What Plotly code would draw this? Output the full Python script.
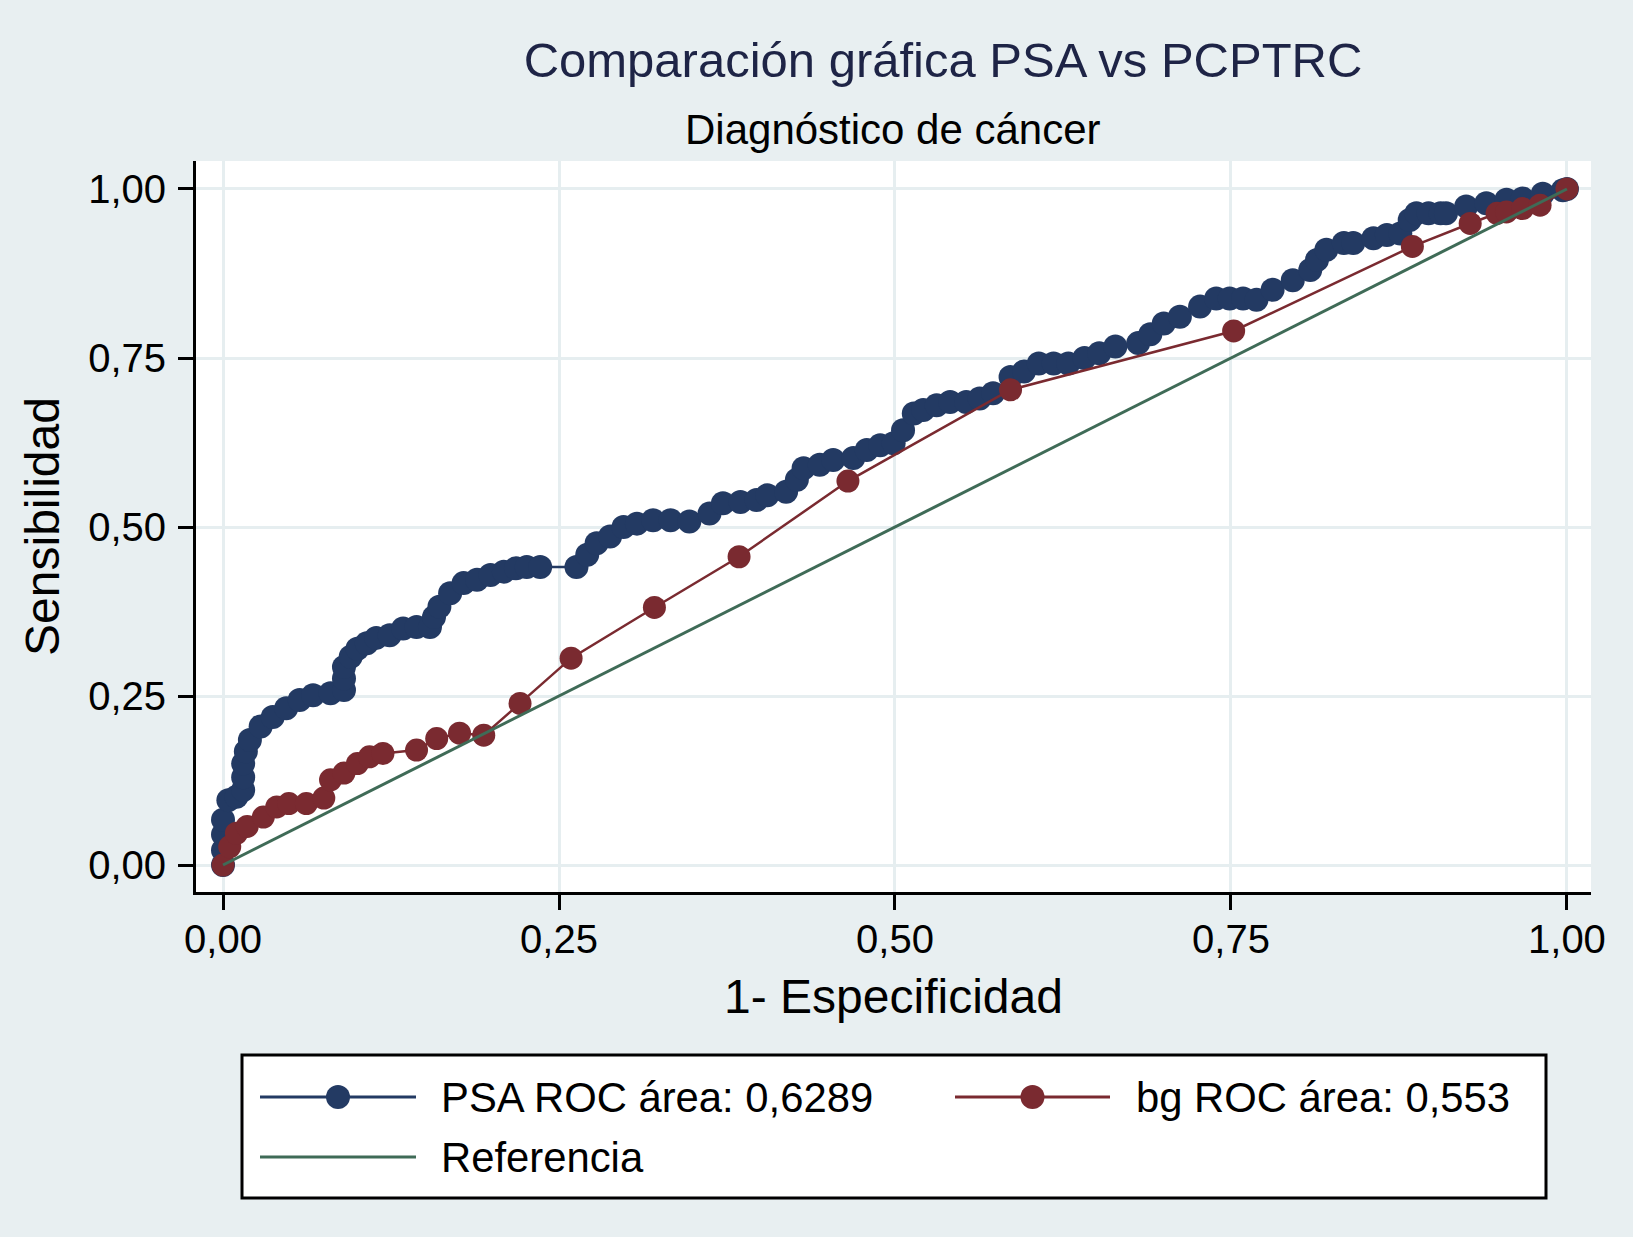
import plotly.graph_objects as go

# ---------------- data ----------------
psa_x = [0.000, 0.000, 0.000, 0.000, 0.004, 0.010, 0.015, 0.015, 0.015, 0.017,
         0.020, 0.028, 0.037, 0.047, 0.057, 0.067, 0.080, 0.090, 0.090, 0.090,
         0.095, 0.100, 0.107, 0.114, 0.124, 0.134, 0.144, 0.154, 0.157, 0.161,
         0.169, 0.179, 0.189, 0.199, 0.209, 0.218, 0.226, 0.236, 0.263, 0.271,
         0.278, 0.288, 0.298, 0.308, 0.320, 0.333, 0.347, 0.362, 0.372, 0.385,
         0.397, 0.405, 0.419, 0.427, 0.432, 0.444, 0.454, 0.469, 0.479, 0.489,
         0.499, 0.506, 0.514, 0.521, 0.531, 0.541, 0.553, 0.563, 0.573, 0.586,
         0.596, 0.607, 0.618, 0.629, 0.641, 0.652, 0.664, 0.681, 0.690, 0.700,
         0.712, 0.727, 0.739, 0.749, 0.759, 0.769, 0.781, 0.796, 0.809, 0.814,
         0.821, 0.834, 0.841, 0.856, 0.866, 0.876, 0.883, 0.888, 0.897, 0.906,
         0.910, 0.925, 0.940, 0.955, 0.967, 0.982, 0.997, 1.000]
psa_y = [0.000, 0.022, 0.045, 0.067, 0.096, 0.101, 0.111, 0.130, 0.150, 0.168,
         0.185, 0.205, 0.219, 0.232, 0.244, 0.251, 0.254, 0.259, 0.276, 0.293,
         0.308, 0.320, 0.328, 0.336, 0.340, 0.350, 0.352, 0.352, 0.367, 0.382,
         0.402, 0.417, 0.422, 0.429, 0.434, 0.439, 0.441, 0.441, 0.441, 0.459,
         0.476, 0.486, 0.500, 0.505, 0.510, 0.510, 0.508, 0.520, 0.535, 0.537,
         0.540, 0.547, 0.552, 0.570, 0.587, 0.592, 0.599, 0.602, 0.614, 0.621,
         0.624, 0.643, 0.668, 0.673, 0.680, 0.685, 0.685, 0.690, 0.698, 0.722,
         0.730, 0.742, 0.742, 0.742, 0.750, 0.757, 0.767, 0.772, 0.785, 0.801,
         0.811, 0.826, 0.838, 0.838, 0.838, 0.836, 0.851, 0.865, 0.880, 0.895,
         0.910, 0.920, 0.920, 0.927, 0.932, 0.934, 0.954, 0.964, 0.964, 0.964,
         0.964, 0.974, 0.979, 0.984, 0.986, 0.993, 0.998, 1.000]

bg_x = [0.000, 0.005, 0.010, 0.018, 0.030, 0.040, 0.049, 0.062, 0.075, 0.080,
        0.090, 0.100, 0.109, 0.119, 0.144, 0.159, 0.176, 0.194, 0.221, 0.259,
        0.321, 0.384, 0.465, 0.586, 0.752, 0.885, 0.928, 0.948, 0.955, 0.967,
        0.980, 1.000]
bg_y = [0.000, 0.027, 0.047, 0.057, 0.071, 0.086, 0.091, 0.091, 0.099, 0.126,
        0.136, 0.150, 0.160, 0.165, 0.170, 0.187, 0.195, 0.192, 0.239, 0.306,
        0.381, 0.456, 0.568, 0.703, 0.790, 0.915, 0.949, 0.964, 0.966, 0.971,
        0.976, 1.000]

ref_x = [0.0, 1.0]
ref_y = [0.0, 1.0]

tick_vals = [0.0, 0.25, 0.5, 0.75, 1.0]
tick_text = ["0,00", "0,25", "0,50", "0,75", "1,00"]

series_names = ["PSA ROC área: 0,6289", "bg ROC área: 0,553", "Referencia"]
title_text = "Comparación gráfica PSA vs PCPTRC"
subtitle_text = "Diagnóstico de cáncer"
x_title = "1- Especificidad"
y_title = "Sensibilidad"

# ---------------- styles ----------------
W, H = 1633, 1237
PL, PR, PT, PB = 196, 1591, 161, 892   # plot area in pixels
FONT = "Liberation Sans, Arial, Helvetica, sans-serif"
C_PSA = "#233a63"
C_BG = "#7a2a30"
C_REF = "#3f6b57"
BG = "#e8eff1"
GRID = "#e6eef0"
MS = 24

def px_x(px):
    return (px - PL) / (PR - PL)

def px_y(py):
    return (PB - py) / (PB - PT)

fig = go.Figure()
fig.add_trace(go.Scatter(x=psa_x, y=psa_y, mode="lines+markers", name=series_names[0],
                         line=dict(color=C_PSA, width=2.5),
                         marker=dict(color=C_PSA, size=MS), showlegend=False))
fig.add_trace(go.Scatter(x=bg_x, y=bg_y, mode="lines+markers", name=series_names[1],
                         line=dict(color=C_BG, width=2.5),
                         marker=dict(color=C_BG, size=MS - 1), showlegend=False))
fig.add_trace(go.Scatter(x=ref_x, y=ref_y, mode="lines", name=series_names[2],
                         line=dict(color=C_REF, width=3), showlegend=False))

axis_common = dict(
    tickvals=tick_vals, ticktext=tick_text, ticks="outside", ticklen=15,
    tickwidth=3, tickcolor="black", showline=True, linecolor="black",
    linewidth=3, showgrid=True, gridcolor=GRID, gridwidth=3, zeroline=False,
    tickfont=dict(family=FONT, size=40, color="black"),
)

fig.update_layout(
    width=W, height=H, autosize=False,
    margin=dict(l=PL, r=W - PR, t=PT, b=H - PB, pad=0),
    paper_bgcolor=BG, plot_bgcolor="white",
    font=dict(family=FONT, color="black"),
    title=dict(text=title_text, x=943 / W, xanchor="center", xref="container",
               y=1 - 60 / H, yanchor="middle", yref="container",
               font=dict(family=FONT, size=49, color="#1e2446")),
    xaxis=dict(range=[-0.0201, 1.0179], **axis_common, ticklabelstandoff=-5,
               title=dict(text=x_title, font=dict(family=FONT, size=48, color="black"),
                          standoff=20)),
    yaxis=dict(range=[-0.0399, 1.0414], **axis_common, ticklabelstandoff=4,
               title=dict(text=y_title, font=dict(family=FONT, size=48, color="black"),
                          standoff=14)),
    showlegend=False,
)

annotations = [
    dict(text=subtitle_text, xref="paper", yref="paper", x=px_x(893), y=px_y(129),
         xanchor="center", yanchor="middle", showarrow=False,
         font=dict(family=FONT, size=42, color="black")),
]
shapes = [
    dict(type="rect", xref="paper", yref="paper", x0=px_x(242), x1=px_x(1546),
         y0=px_y(1055), y1=px_y(1198), fillcolor="white",
         line=dict(color="black", width=3), layer="above"),
]

legend_rows = [
    (series_names[0], C_PSA, True, 260, 416, 1097, 439),
    (series_names[1], C_BG, True, 955, 1110, 1097, 1134),
    (series_names[2], C_REF, False, 260, 416, 1157, 439),
]
for name, col, has_marker, lx0, lx1, ly, tx in legend_rows:
    shapes.append(dict(type="line", xref="paper", yref="paper",
                       x0=px_x(lx0), x1=px_x(lx1), y0=px_y(ly), y1=px_y(ly),
                       line=dict(color=col, width=3), layer="above"))
    if has_marker:
        cx = (lx0 + lx1) / 2
        shapes.append(dict(type="circle", xref="paper", yref="paper",
                           xsizemode="pixel", ysizemode="pixel",
                           xanchor=px_x(cx), yanchor=px_y(ly),
                           x0=-12, x1=12, y0=-12, y1=12,
                           fillcolor=col, line=dict(width=0), layer="above"))
    annotations.append(dict(text=name, xref="paper", yref="paper", x=px_x(tx), y=px_y(ly),
                            xanchor="left", yanchor="middle", showarrow=False,
                            font=dict(family=FONT, size=41.8, color="black")))

fig.update_layout(annotations=annotations, shapes=shapes)

fig.write_html("out.html", config={"displayModeBar": False},
               post_script="document.body.style.margin='0';document.body.style.overflow='hidden';")
